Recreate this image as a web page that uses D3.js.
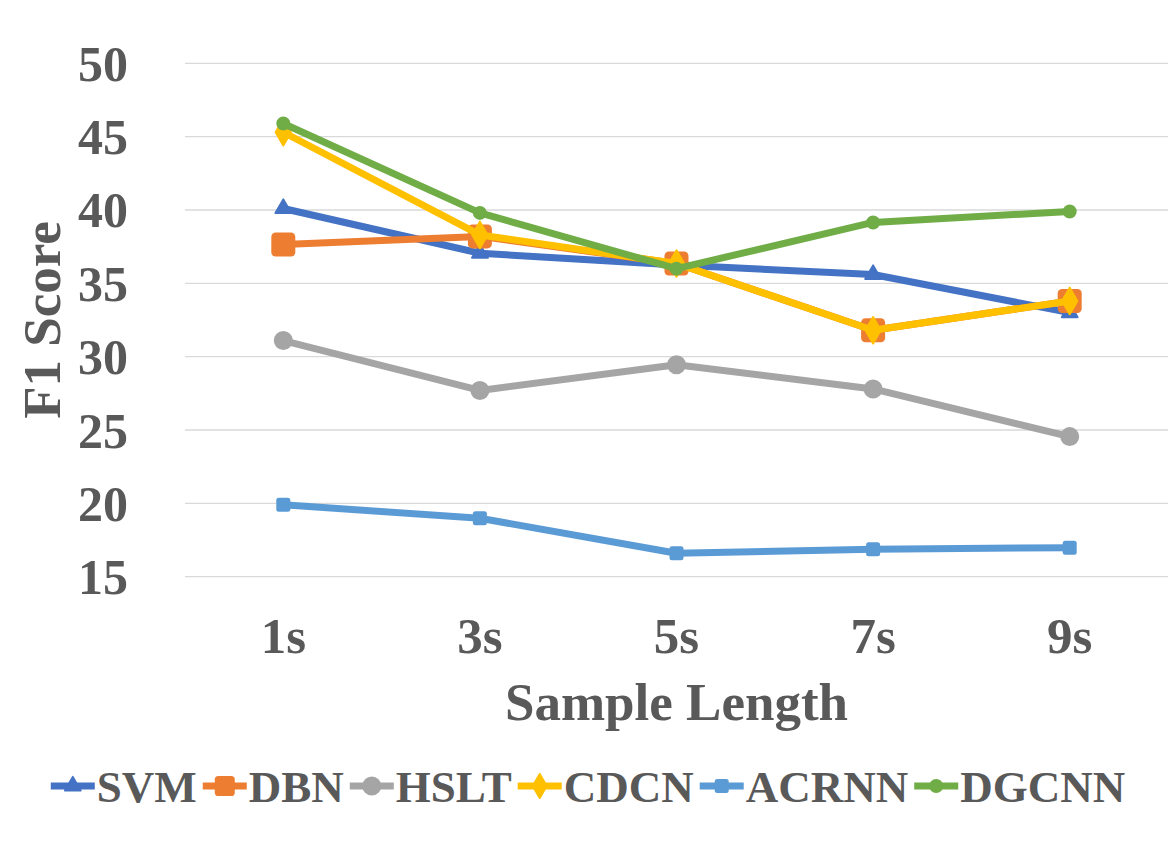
<!DOCTYPE html>
<html>
<head>
    <meta charset="utf-8">
    <title>F1 Score by Sample Length</title>
    <script src="https://d3js.org/d3.v7.min.js"></script>
    <style>
      body { margin: 0; background: #fff; }
      text { font-family: "Liberation Serif", "Times New Roman", serif; font-weight: bold; fill: #595959; }
    </style>
</head>
<body>
    <script>
      // chart data
      var lengths = ["1s", "3s", "5s", "7s", "9s"];
      var yTicks = [15, 20, 25, 30, 35, 40, 45, 50];
      var models = ["SVM", "DBN", "HSLT", "CDCN", "ACRNN", "DGCNN"];
      var svm   = [40.1, 37.05, 36.25, 35.6, 33.0];
      var dbn   = [37.65, 38.2, 36.35, 31.8, 33.8];
      var hslt  = [31.1, 27.7, 29.45, 27.8, 24.55];
      var cdcn  = [45.3, 38.3, 36.35, 31.8, 33.8];
      var acrnn = [19.9, 18.98, 16.6, 16.87, 16.98];
      var dgcnn = [45.9, 39.8, 36.0, 39.15, 39.9];

      var width = 1172, height = 852;
      var plot = { left: 185, right: 1168, top: 63.3, bottom: 576.7 };

      var series = [
        { name: models[0], values: svm,   color: "#4472C4", shape: "triangle", size: 14 },
        { name: models[1], values: dbn,   color: "#ED7D31", shape: "square",   size: 24 },
        { name: models[2], values: hslt,  color: "#A5A5A5", shape: "circle",   size: 17 },
        { name: models[3], values: cdcn,  color: "#FFC000", shape: "diamond",  size: 22 },
        { name: models[4], values: acrnn, color: "#5B9BD5", shape: "square",   size: 14 },
        { name: models[5], values: dgcnn, color: "#70AD47", shape: "circle",   size: 12 }
      ];

      var svg = d3.select("body").append("svg")
        .attr("width", width)
        .attr("height", height);

      var x = d3.scaleBand().domain(lengths).range([plot.left, plot.right]);
      var y = d3.scaleLinear().domain([15, 50]).range([plot.bottom, plot.top]);

      // gridlines
      svg.append("g").selectAll("line")
        .data(yTicks)
        .enter().append("line")
        .attr("x1", plot.left).attr("x2", plot.right)
        .attr("y1", function(d) { return y(d); })
        .attr("y2", function(d) { return y(d); })
        .attr("stroke", "#d9d9d9")
        .attr("stroke-width", 1.3);

      // y axis labels
      var yAxis = svg.append("g")
        .attr("transform", "translate(128,0)")
        .call(d3.axisLeft(y).tickValues(yTicks).tickSize(0).tickPadding(0));
      yAxis.select(".domain").remove();
      yAxis.selectAll("text")
        .attr("font-size", 50)
        .attr("dy", "0.34em");

      // x axis labels
      var xAxis = svg.append("g")
        .attr("transform", "translate(0,653)")
        .call(d3.axisBottom(x).tickSize(0).tickPadding(0));
      xAxis.select(".domain").remove();
      xAxis.selectAll("text")
        .attr("font-size", 51)
        .attr("dy", 0)
        .attr("y", 0);

      svg.selectAll(".tick text").attr("fill", "#595959");

      // axis titles
      svg.append("text")
        .attr("x", (plot.left + plot.right) / 2)
        .attr("y", 720)
        .attr("text-anchor", "middle")
        .attr("font-size", 53)
        .text("Sample Length");

      svg.append("text")
        .attr("transform", "translate(60," + (plot.top + plot.bottom) / 2 + ") rotate(-90)")
        .attr("text-anchor", "middle")
        .attr("font-size", 53)
        .text("F1 Score");

      function symbolFor(s) {
        var area = s.size * s.size;
        if (s.shape == "triangle") return d3.symbol().type(d3.symbolTriangle).size(area * 0.55)();
        if (s.shape == "circle") return d3.symbol().type(d3.symbolCircle).size(area * Math.PI / 4)();
        if (s.shape == "diamond") return d3.symbol().type(d3.symbolDiamond).size(area * 0.42)();
        return null;
      }

      function drawMarker(g, s, cx, cy) {
        if (s.shape == "square") {
          g.append("rect")
            .attr("x", cx - s.size / 2).attr("y", cy - s.size / 2)
            .attr("width", s.size).attr("height", s.size)
            .attr("rx", s.size * 0.18)
            .attr("fill", s.color);
        } else {
          g.append("path")
            .attr("d", symbolFor(s))
            .attr("transform", "translate(" + [cx, cy] + ")")
            .attr("fill", s.color)
            .attr("stroke", s.color)
            .attr("stroke-width", 2)
            .attr("stroke-linejoin", "round");
        }
      }

      var line = d3.line()
        .x(function(d, i) { return x(lengths[i]) + x.bandwidth() / 2; })
        .y(function(d) { return y(d); });

      // series, drawn in order so later ones sit on top
      series.forEach(function(s) {
        var g = svg.append("g");
        g.append("path")
          .attr("d", line(s.values))
          .attr("fill", "none")
          .attr("stroke", s.color)
          .attr("stroke-width", 7)
          .attr("stroke-linejoin", "round");
        s.values.forEach(function(v, i) {
          drawMarker(g, s, x(lengths[i]) + x.bandwidth() / 2, y(v));
        });
      });

      // legend
      var legend = svg.append("g").attr("transform", "translate(0,786)");
      var lineW = 44, gapText = 2, gapItem = 6;
      var items = series.map(function(s) {
        var g = legend.append("g");
        g.append("line")
          .attr("x1", 0).attr("x2", lineW)
          .attr("y1", 0).attr("y2", 0)
          .attr("stroke", s.color)
          .attr("stroke-width", 7);
        var ls = Object.assign({}, s, { size: Math.min(s.size, 20) });
        if (s.shape == "square") ls.size = s.size > 20 ? 20 : 14;
        drawMarker(g, ls, lineW / 2, 0);
        var t = g.append("text")
          .attr("x", lineW + gapText)
          .attr("y", 16)
          .attr("font-size", 45)
          .text(s.name);
        return { g: g, w: lineW + gapText + t.node().getComputedTextLength() };
      });
      var total = d3.sum(items, function(d) { return d.w; }) + gapItem * (items.length - 1);
      var pos = 588 - total / 2;
      items.forEach(function(it) {
        it.g.attr("transform", "translate(" + pos + ",0)");
        pos += it.w + gapItem;
      });
    </script>
</body>
</html>
